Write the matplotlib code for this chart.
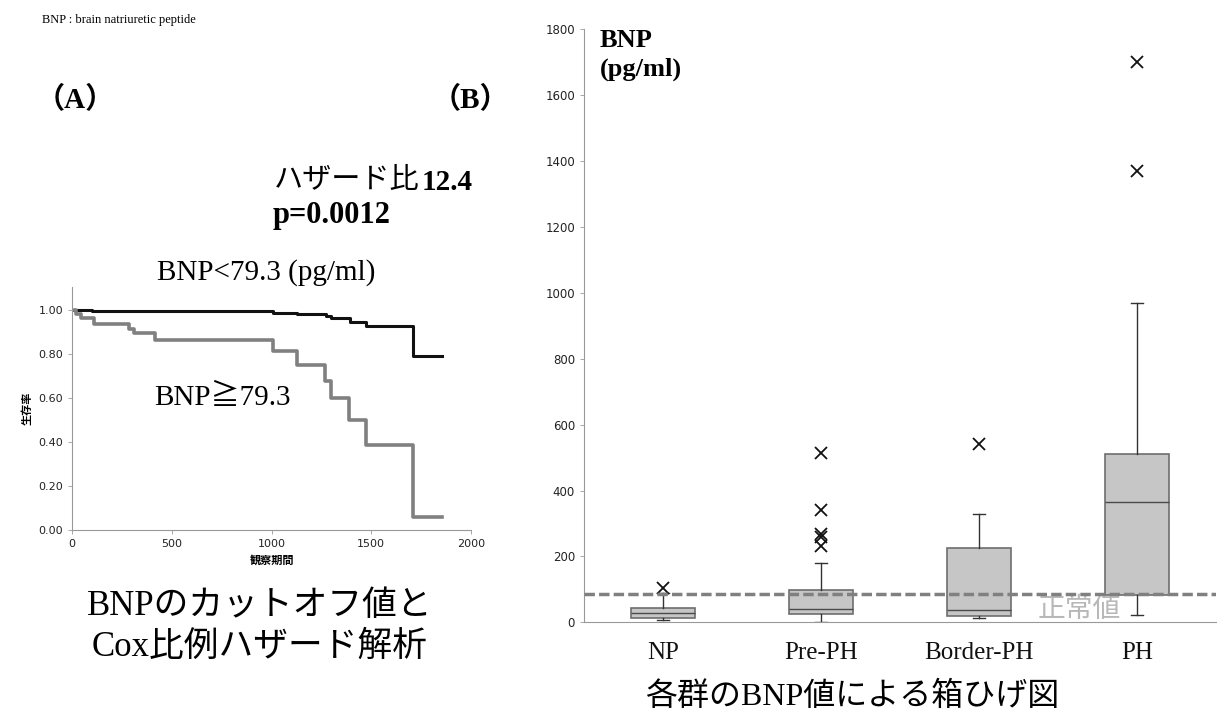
import matplotlib
matplotlib.use("Agg")
from matplotlib import pyplot as plt

# Kaplan-Meier curves (survival vs. observation days)
low_days = [0, 100, 1007, 1130, 1275, 1300, 1392, 1476, 1707, 1857]
low_surv = [1.0, 0.995, 0.988, 0.982, 0.973, 0.962, 0.947, 0.929, 0.791, 0.791]
high_days = [0, 20, 45, 112, 288, 313, 418, 1007, 1130, 1267, 1300, 1389, 1476, 1707, 1857]
high_surv = [1.0, 0.98, 0.962, 0.939, 0.912, 0.894, 0.864, 0.814, 0.75, 0.677, 0.598, 0.5, 0.386, 0.058, 0.058]

# BNP box plot per group
groups = ['NP', 'Pre-PH', 'Border-PH', 'PH']
whislo = [6, 2, 12, 22]
q1 = [12, 24, 19, 83]
med = [28, 40, 37, 365]
q3 = [42, 97, 227, 510]
whishi = [88, 181, 330, 970]
fliers = [[103], [231, 258, 267, 340, 514], [542], [1371, 1701]]
normal_value = 86

W, H = 1222, 714
SERIF = ['Liberation Serif', 'Noto Sans CJK JP']
SANS = ['DejaVu Sans', 'Noto Sans CJK JP']


def fx(x, y):
    return x / W, 1 - y / H


fig = plt.figure(figsize=(W / 100, H / 100), dpi=100)

# ---- (A) survival curves ----
ax1 = fig.add_axes([72 / W, 1 - 530 / H, 399 / W, 243 / H])
ax1.step(low_days, low_surv, where='post', color='#111111', lw=2.2)
ax1.step(high_days, high_surv, where='post', color='#808080', lw=2.6)
ax1.set_xlim(0, 2000)
ax1.set_ylim(0, 1.105)
ax1.set_xticks([0, 500, 1000, 1500, 2000])
ax1.set_yticks([0, 0.2, 0.4, 0.6, 0.8, 1.0])
ax1.set_yticklabels(['%.2f' % v for v in [0, 0.2, 0.4, 0.6, 0.8, 1.0]])
for s in ['top', 'right']:
    ax1.spines[s].set_visible(False)
for s in ['left', 'bottom']:
    ax1.spines[s].set_color('#999999')
    ax1.spines[s].set_linewidth(0.8)
ax1.tick_params(colors='#999999', labelcolor='#222222', labelsize=8, length=3, width=0.6)
ax1.set_ylabel('生存率', family=SANS, fontsize=8, fontweight='bold', labelpad=4)
ax1.set_xlabel('観察期間', family=SANS, fontsize=8, fontweight='bold', labelpad=4)
ax1.text(410, 0.6, 'BNP≧79.3', family=SERIF, fontsize=21, va='center', ha='left')

# ---- (B) box plot ----
ax2 = fig.add_axes([584 / W, 1 - 622.3 / H, 632 / W, 593 / H])
stats = []
for i, g in enumerate(groups):
    stats.append(dict(label=g, whislo=whislo[i], q1=q1[i], med=med[i],
                      q3=q3[i], whishi=whishi[i], fliers=fliers[i]))
pos = list(range(1, len(groups) + 1))
ax2.bxp(stats, positions=pos, widths=0.4, patch_artist=True, capwidths=0.07,
        boxprops=dict(facecolor='#c6c6c6', edgecolor='#6e6e6e', lw=1.2),
        medianprops=dict(color='#4a4a4a', lw=1.0),
        whiskerprops=dict(color='#333333', lw=1.0),
        capprops=dict(color='#333333', lw=1.0),
        flierprops=dict(marker='x', markeredgecolor='#111111', markersize=8, markeredgewidth=1.3))
ax2.axhline(normal_value, color='#808080', lw=2.5, ls=(0, (3, 1.2)), zorder=5)
ax2.text(3.37, -3, '正常値', family=SANS, fontsize=20, color='#b8b8b8', ha='left',
         va='bottom', zorder=1)
ax2.set_xlim(0.5, 4.5)
ax2.set_ylim(0, 1800)
ax2.set_yticks(range(0, 1801, 200))
ax2.set_xticks(pos)
ax2.set_xticklabels(groups, family=SERIF, fontsize=18)
ax2.tick_params(axis='x', length=0, pad=14, labelcolor='#111111')
ax2.tick_params(axis='y', colors='#999999', labelcolor='#222222', labelsize=8.5, length=3, width=0.6)
for s in ['top', 'right']:
    ax2.spines[s].set_visible(False)
for s in ['left', 'bottom']:
    ax2.spines[s].set_color('#999999')
    ax2.spines[s].set_linewidth(0.8)
ax2.text(0.025, 1.0, 'BNP\n(pg/ml)', transform=ax2.transAxes, family=SERIF,
         fontsize=19, fontweight='bold', va='top', ha='left', linespacing=1.3)

# ---- figure-level text ----
fig.text(*fx(42, 20), 'BNP : brain natriuretic peptide', family=SERIF, fontsize=9, va='center')
fig.text(*fx(36, 100), '（A）', family=SERIF, fontsize=21, fontweight='bold', va='center')
fig.text(*fx(432, 100), '（B）', family=SERIF, fontsize=21, fontweight='bold', va='center')
fig.text(*fx(274, 181), 'ハザード比', family=SERIF, fontsize=21, va='center')
fig.text(*fx(422, 182), '12.4', family=SERIF, fontsize=21, fontweight='bold', va='center')
fig.text(*fx(273, 216), 'p=0.0012', family=SERIF, fontsize=22, fontweight='bold', va='center')
fig.text(*fx(157, 273), 'BNP<79.3 (pg/ml)', family=SERIF, fontsize=21, va='center')
fig.text(*fx(260, 607), 'BNPのカットオフ値と', family=SERIF, fontsize=25, va='center', ha='center')
fig.text(*fx(260, 647), 'Cox比例ハザード解析', family=SERIF, fontsize=25, va='center', ha='center')
fig.text(*fx(852, 697), '各群のBNP値による箱ひげ図', family=SERIF, fontsize=23, va='center', ha='center')

fig.savefig('out.png', dpi=100)
